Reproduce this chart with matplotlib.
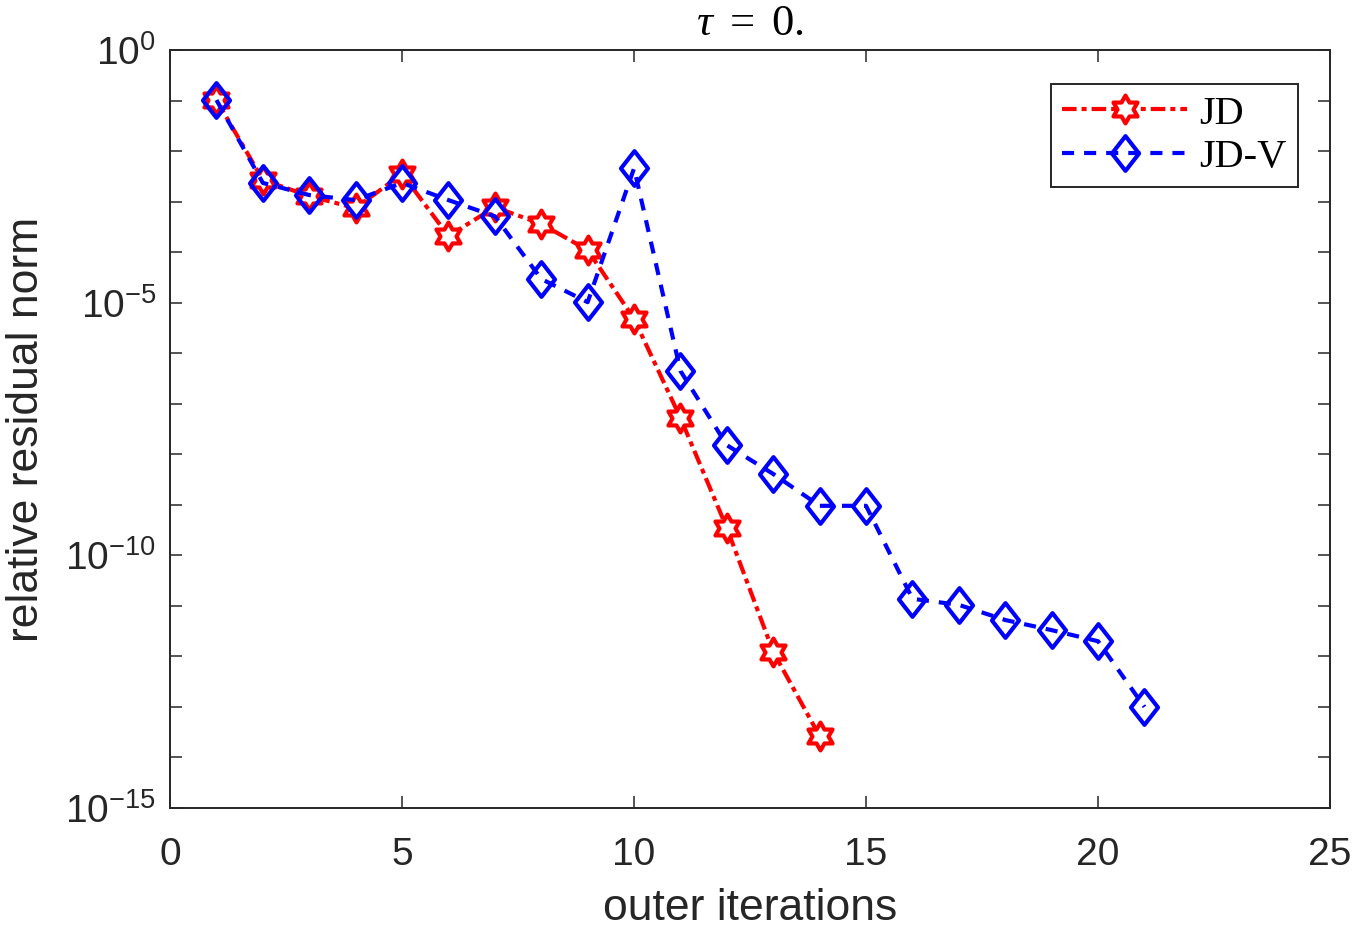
import numpy as np
import matplotlib
matplotlib.use("Agg")
import matplotlib.pyplot as plt
from matplotlib.path import Path
from matplotlib.ticker import NullFormatter

# iteration counts
iters_jd = [1, 2, 3, 4, 5, 6, 7, 8, 9, 10, 11, 12, 13, 14]
iters_jdv = list(range(1, 22))

# log10 of relative residual norm
log_res_jd = [-0.99, -2.57, -2.89, -3.13, -2.45, -3.68, -3.11, -3.44, -3.96,
              -5.32, -7.28, -9.46, -11.91, -13.58]
log_res_jdv = [-0.99, -2.63, -2.87, -2.97, -2.63, -2.97, -3.29, -4.53, -4.99,
               -2.34, -6.35, -7.82, -8.39, -9.02, -9.02, -10.86, -10.98,
               -11.28, -11.48, -11.70, -13.00]

res_jd = 10.0 ** np.array(log_res_jd)
res_jdv = 10.0 ** np.array(log_res_jdv)

plt.rcParams["font.family"] = ["Liberation Sans", "DejaVu Sans"]
plt.rcParams["mathtext.fontset"] = "custom"
plt.rcParams["mathtext.rm"] = "Liberation Serif"
plt.rcParams["mathtext.it"] = "Liberation Serif:italic"
plt.rcParams["axes.unicode_minus"] = False


def hexagram_marker():
    # six-pointed star, MATLAB 'hexagram'
    angles = np.pi / 2 + np.arange(12) * np.pi / 6
    radii = np.where(np.arange(12) % 2 == 0, 1.0, 1.0 / np.sqrt(3))
    verts = np.column_stack([radii * np.cos(angles), radii * np.sin(angles)])
    verts = np.vstack([verts, verts[:1]])
    codes = [Path.MOVETO] + [Path.LINETO] * 11 + [Path.CLOSEPOLY]
    return Path(verts, codes)


def diamond_marker():
    verts = [(0, 1), (0.78, 0), (0, -1), (-0.78, 0), (0, 1)]
    codes = [Path.MOVETO, Path.LINETO, Path.LINETO, Path.LINETO, Path.CLOSEPOLY]
    return Path(verts, codes)


fig = plt.figure(figsize=(13.54, 9.30), dpi=100)
ax = fig.add_axes([0.1256, 0.1312, 0.8567, 0.8150])

lw = 3.0
ax.semilogy(iters_jd, res_jd, color="red", linestyle="-.", dashes=(3.5, 1.2, 1.2, 1.2),
            linewidth=lw, marker=hexagram_marker(), markersize=20, markeredgewidth=lw,
            markerfacecolor="white", markeredgecolor="red", label="JD")
ax.semilogy(iters_jdv, res_jdv, color="blue", linestyle="--", dashes=(2.9, 2.4),
            linewidth=lw, marker=diamond_marker(), markersize=25, markeredgewidth=lw,
            markerfacecolor="none", markeredgecolor="blue", label="JD-V")

ax.set_xlim(0, 25)
ax.set_ylim(1e-15, 1e0)
ax.set_xticks([0, 5, 10, 15, 20, 25])
ax.set_yticks([1e0, 1e-5, 1e-10, 1e-15])
ax.set_yticks([10.0 ** -k for k in range(1, 15) if k % 5 != 0], minor=True)
ax.yaxis.set_minor_formatter(NullFormatter())

ax.tick_params(which="both", direction="in", top=True, right=True, labelsize=28,
               colors="#262626", length=8.5, width=1.1)
ax.tick_params(axis="x", pad=21)
ax.tick_params(axis="y", pad=10)
for sp in ax.spines.values():
    sp.set_linewidth(1.4)
    sp.set_color("#262626")

ax.set_xlabel("outer iterations", fontsize=32, color="#262626", labelpad=11)
ax.set_ylabel("relative residual norm", fontsize=32, color="#262626", labelpad=13)
ax.set_title(r"$\tau\ =\ 0.$", fontsize=32, pad=11)

leg = ax.legend(loc="upper right", bbox_to_anchor=(0.9724, 0.9551), borderaxespad=0,
                prop={"family": "Liberation Serif", "size": 29},
                fancybox=False, framealpha=1, edgecolor="#262626",
                handlelength=3.1, handletextpad=0.3, borderpad=0.28, labelspacing=0.15)
leg.get_frame().set_linewidth(1.4)

fig.savefig("out.png", dpi=100)
